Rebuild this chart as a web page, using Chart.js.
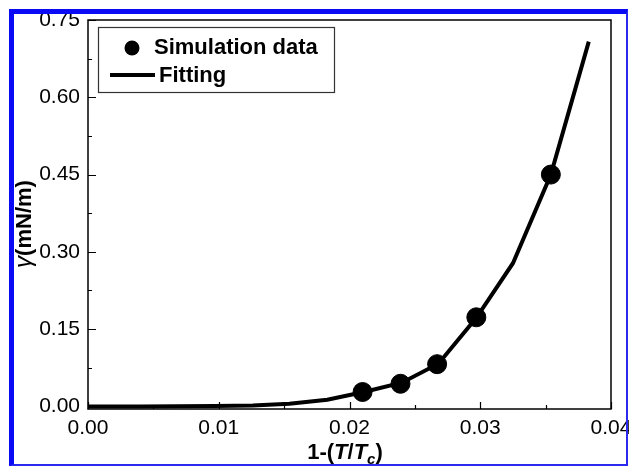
<!DOCTYPE html>
<html>
<head>
<meta charset="utf-8">
<script src="https://cdn.jsdelivr.net/npm/chart.js@4.4.1/dist/chart.umd.min.js"></script>
<style>
    html, body { margin: 0; padding: 0; background: #fff; }
    #wrap { position: relative; width: 629px; height: 466px; overflow: hidden; }
    #frame {
        position: absolute; left: 9px; top: 9px; width: 612px; height: 450px;
        border-left: 5px solid #0a0af5; border-top: 5px solid #0a0af5;
        border-right: 2px solid #2a2aee; border-bottom: 2px solid #2a2aee;
        pointer-events: none;
    }
</style>
</head>
<body>
<div id="wrap">
    <canvas id="chart" width="629" height="466"></canvas>
    <div id="frame"></div>
</div>
<script>
    // simulation points
    var sim_x = [0.0210, 0.0239, 0.0267, 0.0297, 0.0354];
    var sim_y = [0.028, 0.044, 0.082, 0.173, 0.450];

    // fitted curve
    var fit_x = [0, 0.0040, 0.0069, 0.0097, 0.0126, 0.0154, 0.0183, 0.0211, 0.0240, 0.0268, 0.0297, 0.0325, 0.0354, 0.0383];
    var fit_y = [0, 0, 0.0002, 0.0006, 0.0018, 0.005, 0.013, 0.028, 0.046, 0.083, 0.172, 0.278, 0.450, 0.708];

    var x_ticks = [0, 0.01, 0.02, 0.03, 0.04];
    var y_ticks = [0, 0.15, 0.30, 0.45, 0.60, 0.75];

    var FONT = "Arial, 'Liberation Sans', sans-serif";

    function pts(xs, ys) {
        return xs.map(function (x, i) { return { x: x, y: ys[i] }; });
    }

    // frame, inward ticks, legend and axis titles
    var decor = {
        id: 'decor',
        afterDraw: function (chart) {
            var ctx = chart.ctx;
            var a = chart.chartArea;
            var xs = chart.scales.x, ys = chart.scales.y;
            ctx.save();
            ctx.strokeStyle = '#000';
            ctx.lineWidth = 1.5;
            ctx.strokeRect(a.left, a.top, a.right - a.left, a.bottom - a.top);

            ctx.lineWidth = 1.2;
            ctx.beginPath();
            for (var v = 0; v <= 0.04001; v += 0.005) {
                var px = Math.round(xs.getPixelForValue(v)) + 0.5;
                var major = Math.abs(v / 0.01 - Math.round(v / 0.01)) < 1e-6;
                ctx.moveTo(px, a.bottom);
                ctx.lineTo(px, a.bottom - (major ? 7 : 4));
            }
            for (var w = 0; w <= 0.7501; w += 0.075) {
                var py = Math.round(ys.getPixelForValue(w)) + 0.5;
                var maj = Math.abs(w / 0.15 - Math.round(w / 0.15)) < 1e-6;
                ctx.moveTo(a.left, py);
                ctx.lineTo(a.left + (maj ? 8 : 4), py);
            }
            ctx.stroke();

            // legend box
            ctx.lineWidth = 1.2;
            ctx.strokeStyle = '#333';
            ctx.strokeRect(98.5, 27.5, 236, 65);
            ctx.fillStyle = '#000';
            ctx.beginPath();
            ctx.arc(132, 48, 7.5, 0, Math.PI * 2);
            ctx.fill();
            ctx.lineWidth = 4;
            ctx.strokeStyle = '#000';
            ctx.beginPath();
            ctx.moveTo(110, 75);
            ctx.lineTo(155, 75);
            ctx.stroke();
            ctx.font = 'bold 22px ' + FONT;
            ctx.textBaseline = 'middle';
            ctx.textAlign = 'left';
            ctx.fillText(chart.data.datasets[0].label, 154, 48);
            ctx.fillText(chart.data.datasets[1].label, 159, 76);

            // x title: 1-(T/Tc)
            var parts = [
                ['1-(', 'bold 22px '],
                ['T', 'italic bold 22px '],
                ['/', 'bold 22px '],
                ['T', 'italic bold 22px ']
            ];
            var total = 0;
            parts.forEach(function (p) { ctx.font = p[1] + FONT; total += ctx.measureText(p[0]).width; });
            ctx.font = 'italic bold 15px ' + FONT;
            var cw = ctx.measureText('c').width;
            ctx.font = 'bold 22px ' + FONT;
            var pw = ctx.measureText(')').width;
            total += cw + pw;
            var x0 = 345 - total / 2;
            var yb = 459;
            ctx.textBaseline = 'alphabetic';
            parts.forEach(function (p) {
                ctx.font = p[1] + FONT;
                ctx.fillText(p[0], x0, yb);
                x0 += ctx.measureText(p[0]).width;
            });
            ctx.font = 'italic bold 15px ' + FONT;
            ctx.fillText('c', x0, yb + 5);
            x0 += cw;
            ctx.font = 'bold 22px ' + FONT;
            ctx.fillText(')', x0, yb);

            // y title: γ(mN/m)
            ctx.translate(31, 224);
            ctx.rotate(-Math.PI / 2);
            ctx.font = 'italic 24px ' + FONT;
            var gw = ctx.measureText('γ').width;
            ctx.font = 'bold 22px ' + FONT;
            var rw = ctx.measureText('(mN/m)').width;
            var sx = -(gw + rw) / 2;
            ctx.font = 'italic 24px ' + FONT;
            ctx.fillText('γ', sx, 0);
            ctx.font = 'bold 22px ' + FONT;
            ctx.fillText('(mN/m)', sx + gw, 0);
            ctx.restore();
        }
    };

    new Chart(document.getElementById('chart'), {
        type: 'scatter',
        data: {
            datasets: [
                {
                    label: 'Simulation data',
                    data: pts(sim_x, sim_y),
                    showLine: false,
                    pointRadius: 9.5,
                    pointHoverRadius: 9.5,
                    backgroundColor: '#000',
                    borderColor: '#000',
                    order: 0
                },
                {
                    label: 'Fitting',
                    data: pts(fit_x, fit_y),
                    showLine: true,
                    pointRadius: 0,
                    borderColor: '#000',
                    borderWidth: 4,
                    tension: 0,
                    order: 1
                }
            ]
        },
        options: {
            responsive: false,
            animation: false,
            events: [],
            layout: { padding: { top: 20, right: 18, left: 0, bottom: 0 } },
            plugins: { legend: { display: false }, tooltip: { enabled: false } },
            scales: {
                x: {
                    type: 'linear',
                    min: 0,
                    max: 0.04,
                    afterBuildTicks: function (s) { s.ticks = x_ticks.map(function (v) { return { value: v }; }); },
                    afterFit: function (s) { s.height = 57; s.paddingLeft = 0; s.paddingRight = 0; },
                    grid: { display: false, drawTicks: false },
                    border: { display: false },
                    ticks: {
                        padding: 7,
                        maxRotation: 0,
                        color: '#000',
                        font: { family: FONT, size: 21 },
                        callback: function (v) { return v.toFixed(2); }
                    }
                },
                y: {
                    min: -0.005,
                    max: 0.75,
                    afterBuildTicks: function (s) { s.ticks = y_ticks.map(function (v) { return { value: v }; }); },
                    afterFit: function (s) { s.width = 88; s.paddingTop = 0; s.paddingBottom = 0; },
                    grid: { display: false, drawTicks: false },
                    border: { display: false },
                    ticks: {
                        padding: 8,
                        color: '#000',
                        font: { family: FONT, size: 21 },
                        callback: function (v) { return v.toFixed(2); }
                    }
                }
            }
        },
        plugins: [decor]
    });
</script>
</body>
</html>
